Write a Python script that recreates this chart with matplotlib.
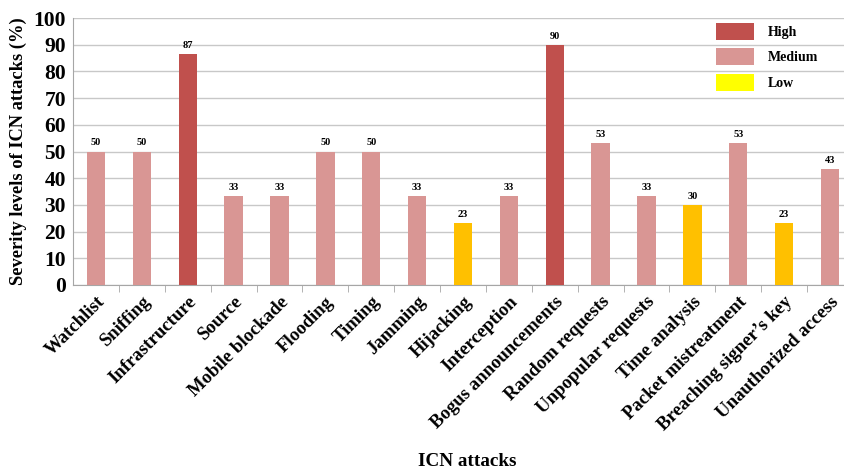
import matplotlib
matplotlib.use('Agg')
import matplotlib.pyplot as plt
from matplotlib.patches import Patch

# Datos
ataques = ['Watchlist', 'Sniffing', 'Infrastructure', 'Source', 'Mobile blockade',
           'Flooding', 'Timing', 'Jamming', 'Hijacking', 'Interception',
           'Bogus announcements', 'Random requests', 'Unpopular requests',
           'Time analysis', 'Packet mistreatment', 'Breaching signer\u2019s key',
           'Unauthorized access']
valores = [50, 50, 86.7, 33.3, 33.3, 50, 50, 33.3, 23.3, 33.3, 90, 53.3, 33.3,
           30, 53.3, 23.3, 43.3]
etiquetas = ['50', '50', '87', '33', '33', '50', '50', '33', '23', '33', '90',
             '53', '33', '30', '53', '23', '43']
niveles = ['Medium', 'Medium', 'High', 'Medium', 'Medium', 'Medium', 'Medium',
           'Medium', 'Low', 'Medium', 'High', 'Medium', 'Medium', 'Low', 'Medium',
           'Low', 'Medium']

colores = {'High': '#C0504D', 'Medium': '#D99694', 'Low': '#FFC000'}
colores_leyenda = {'High': '#C0504D', 'Medium': '#D99694', 'Low': '#FFFF00'}

plt.rcParams['font.family'] = ['Liberation Serif', 'DejaVu Serif']
plt.rcParams['font.weight'] = 'bold'

fig = plt.figure(figsize=(8.44, 4.71), dpi=100)
ax = fig.add_axes([73 / 844, 186 / 471, 780 / 844, 267 / 471])

x = list(range(len(ataques)))
ax.bar(x, valores, width=0.4, color=[colores[n] for n in niveles], zorder=3)

# Etiquetas de valor encima de cada barra
for xi, v, t in zip(x, valores, etiquetas):
    ax.text(xi, v + 1.5, t, ha='center', va='bottom', fontsize=7.5, fontweight='bold')

ax.set_xlim(-0.5, len(ataques) - 0.5)
ax.set_ylim(0, 100)
ax.set_yticks(range(0, 101, 10))
ax.tick_params(axis='y', length=0, labelsize=15.5, pad=5)
ax.set_xticks(x)
ax.set_xticklabels(ataques, rotation=45, ha='right', rotation_mode='anchor',
                   fontsize=13.5, fontweight='bold')
ax.tick_params(axis='x', length=0, pad=6)
# marcas entre categorias
ax.set_xticks([i + 0.5 for i in x[:-1]], minor=True)
ax.tick_params(axis='x', which='minor', length=5, color='#A6A6A6', direction='out')

ax.grid(axis='y', color='#C8C8C8', linewidth=1, zorder=0)
for s in ['top', 'right']:
    ax.spines[s].set_visible(False)
ax.spines['left'].set_color('#A6A6A6')
ax.spines['bottom'].set_color('#A6A6A6')

ax.set_ylabel('Severity levels of ICN attacks (%)', fontsize=13.3, fontweight='bold', labelpad=5)
fig.text(467 / 844, 1 - 462 / 471, 'ICN attacks', ha='center', va='center',
         fontsize=13.8, fontweight='bold')

manejadores = [Patch(facecolor=colores_leyenda[k], label=k) for k in ['High', 'Medium', 'Low']]
ax.legend(handles=manejadores, loc='upper left', bbox_to_anchor=(0.808, 1.028),
          frameon=False, prop={'size': 10, 'weight': 'bold'},
          handlelength=2.75, handleheight=1.5, handletextpad=1.0, labelspacing=0.6)

fig.savefig('out.png', dpi=100)
